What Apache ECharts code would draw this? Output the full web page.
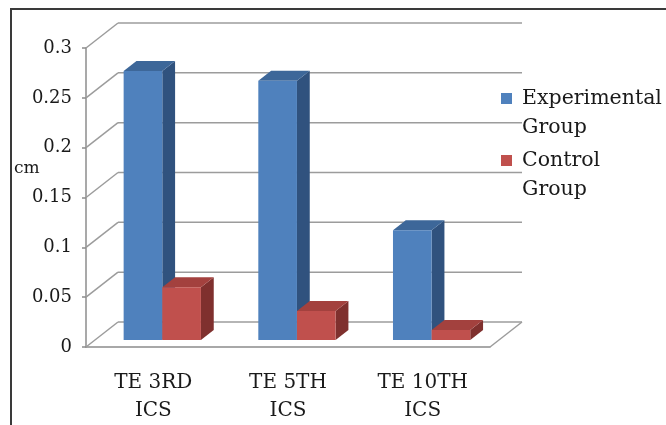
<!DOCTYPE html>
<html>
<head>
<meta charset="utf-8">
<script src="https://cdn.jsdelivr.net/npm/echarts@6/dist/echarts.min.js"></script>
<style>
html, body { margin: 0; padding: 0; background: #fff; }
#chart { width: 666px; height: 425px; }
</style>
</head>
<body>
<div id="chart"></div>
<script>
// data
const categories = ['TE 3RD ICS', 'TE 5TH ICS', 'TE 10TH ICS']
const experimental = [0.27, 0.26, 0.11]
const control = [0.053, 0.029, 0.01]
const yTicks = [0, 0.05, 0.1, 0.15, 0.2, 0.25, 0.3]
const seriesNames = ['Experimental Group', 'Control Group']

// 3d look: depth of the box and of the bars
const DX = 32, DY = -25
const F0 = 0.28, F1 = 0.68
const BAR = 0.287 // bar width as share of a category band
const FONT = 'DejaVu Serif'

const colors = [
  { front: '#4f81bd', side: '#30527e', top: '#3d6799' },
  { front: '#c0504d', side: '#7f302e', top: '#a3413e' },
]

const chart = echarts.init(document.getElementById('chart'))

function wallItem(params, api) {
  const cs = params.coordSys
  const p = api.coord([0, api.value(1)])
  const y = p[1]
  const x0 = cs.x, x1 = cs.x + cs.width
  const style = { stroke: '#9c9c9c', lineWidth: 1.5, fill: null }
  const children = [
    { type: 'line', shape: { x1: x0, y1: y, x2: x0 + DX, y2: y + DY }, style },
    { type: 'line', shape: { x1: x0 + DX, y1: y + DY, x2: x1 + DX, y2: y + DY }, style },
  ]
  if (api.value(1) === 0) {
    children.push({ type: 'line', shape: { x1: x1, y1: y, x2: x1 + DX, y2: y + DY }, style })
  }
  return { type: 'group', children }
}

function barRender(idx) {
  return function (params, api) {
    const c0 = api.coord([api.value(0), 0])
    const c1 = api.coord([api.value(0), api.value(1)])
    const bw = api.size([1, 0])[0]
    const w = bw * BAR
    const xl = c0[0] + (idx === 0 ? -w : 0) + DX * F0
    const yb = c0[1] + DY * F0
    const yt = c1[1] + DY * F0
    const ddx = DX * (F1 - F0), ddy = DY * (F1 - F0)
    const col = colors[idx]
    return {
      type: 'group',
      children: [
        { type: 'polygon', shape: { points: [[xl + w, yt], [xl + w + ddx, yt + ddy], [xl + w + ddx, yb + ddy], [xl + w, yb]] }, style: { fill: col.side } },
        { type: 'polygon', shape: { points: [[xl, yt], [xl + ddx, yt + ddy], [xl + w + ddx, yt + ddy], [xl + w, yt]] }, style: { fill: col.top } },
        { type: 'rect', shape: { x: xl, y: yt, width: w, height: yb - yt }, style: { fill: col.front } },
      ],
    }
  }
}

const legendGraphics = []
seriesNames.forEach(function (name, i) {
  const top = 93 + i * 62
  legendGraphics.push({ type: 'rect', left: 501, top: top, shape: { width: 11, height: 11 }, style: { fill: colors[i].front } })
  legendGraphics.push({
    type: 'text', left: 522, top: top - 9,
    style: { text: name.replace(' ', '\n'), font: '20.5px "' + FONT + '"', fill: '#1a1a1a', lineHeight: 29 },
  })
})

chart.setOption({
  animation: false,
  grid: { left: 86, top: 48, width: 404, height: 301 },
  xAxis: {
    type: 'category',
    data: categories,
    axisLine: { lineStyle: { color: '#8c8c8c', width: 1.5 } },
    axisTick: { length: 7, lineStyle: { color: '#8c8c8c', width: 1.5 } },
    axisLabel: {
      margin: 22,
      fontFamily: FONT, fontSize: 20, color: '#1a1a1a', lineHeight: 28,
      formatter: function (v) { return v.replace(' ICS', '\nICS') },
    },
  },
  yAxis: {
    type: 'value',
    min: 0, max: 0.3, interval: 0.05,
    splitLine: { show: false },
    axisLine: { show: true, lineStyle: { color: '#8c8c8c', width: 1.5 } },
    axisTick: { show: true, length: 4, lineStyle: { color: '#8c8c8c', width: 1.5 } },
    axisLabel: { margin: 14, fontFamily: FONT, fontSize: 18, color: '#1a1a1a' },
  },
  series: [
    {
      type: 'custom', name: 'walls', z: 1, clip: false, silent: true,
      renderItem: wallItem,
      data: yTicks.map(function (v) { return [0, v] }),
    },
    {
      type: 'custom', name: seriesNames[0], z: 3, clip: false,
      renderItem: barRender(0),
      data: experimental.map(function (v, i) { return [i, v] }),
    },
    {
      type: 'custom', name: seriesNames[1], z: 4, clip: false,
      renderItem: barRender(1),
      data: control.map(function (v, i) { return [i, v] }),
    },
  ],
  graphic: [
    { type: 'polyline', shape: { points: [[11, 425], [11, 9], [666, 9]] }, style: { stroke: '#3a3a3a', lineWidth: 2, fill: null } },
    { type: 'text', left: 14, top: 160, style: { text: 'cm', font: '17px "' + FONT + '"', fill: '#1a1a1a' } },
  ].concat(legendGraphics),
})
</script>
</body>
</html>
